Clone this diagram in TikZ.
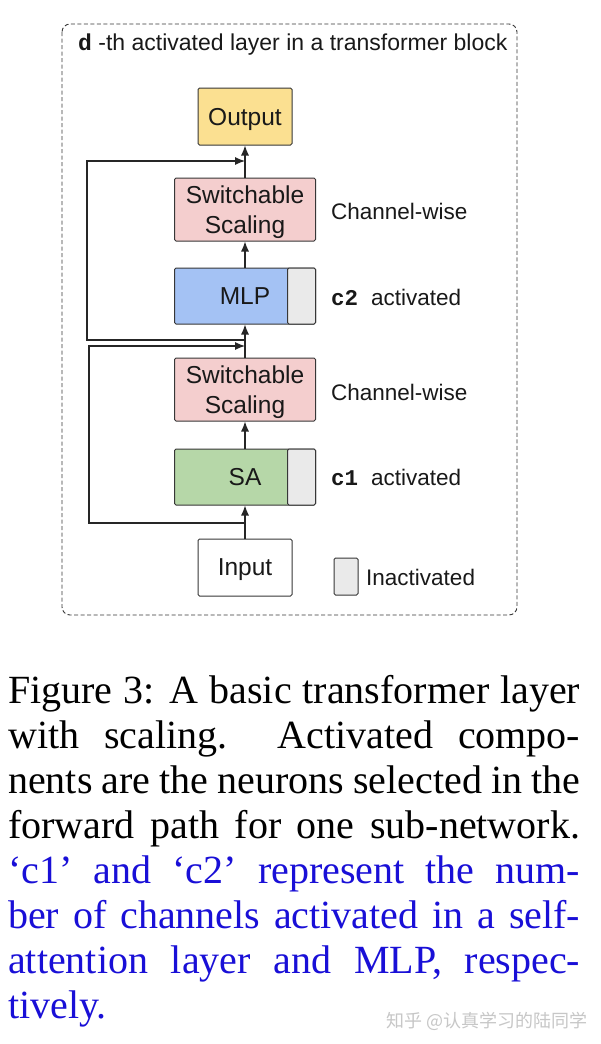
\documentclass[tikz,border=0pt]{standalone}
\usepackage{fontspec}
\setmainfont{Liberation Serif}
\newfontfamily\arialf{Liberation Sans}
\newfontfamily\monof{Liberation Mono}
\newfontfamily\cjkf{Noto Sans CJK SC}
\usetikzlibrary{arrows.meta}
\definecolor{outc}{RGB}{251,224,145}
\definecolor{pinkc}{RGB}{244,206,206}
\definecolor{bluec}{RGB}{164,194,244}
\definecolor{greenc}{RGB}{182,215,168}
\definecolor{grayc}{RGB}{234,234,234}
\definecolor{edgec}{RGB}{55,55,55}
\definecolor{capblue}{RGB}{25,15,215}
\begin{document}
\begin{tikzpicture}[x=1pt,y=-1pt,
  box/.style={draw=edgec, line width=1pt, rounded corners=1.5pt, inner sep=0pt, align=center,
    text depth=0pt, font=\arialf\fontsize{24.5}{30}\selectfont, text=black!90},
  lbl/.style={anchor=west, inner sep=0pt, font=\arialf\fontsize{22.5}{26}\selectfont, text=black!90},
  conn/.style={draw=black!85, line width=1.1pt},
  arr/.style={conn, -{Latex[length=10pt,width=8pt]}},
  capline/.style={anchor=base west, inner sep=0pt, font=\fontsize{40}{45}\selectfont}
]
\useasboundingbox (0,0) rectangle (600,1044);
\fill[white] (0,0) rectangle (600,1044);
% frame
\draw[edgec, line width=0.9pt, rounded corners=8pt, dash pattern=on 4pt off 2.5pt] (62,24) rectangle (517,615);
\node[lbl, anchor=base west, font=\arialf\fontsize{23}{26}\selectfont] (title) at (78,50) {{\monof\bfseries d} -th activated layer in a transformer block};
% boxes
\node[box, fill=outc, minimum width=94pt, minimum height=57pt] (out) at (245,116.5) {Output};
\node[box, fill=pinkc, minimum width=141pt, minimum height=63pt] (sc2) at (245,209.5) {Switchable\\Scaling};
\node[box, fill=bluec, minimum width=141pt, minimum height=56pt] (mlp) at (245,296) {MLP};
\node[box, fill=grayc, minimum width=28pt, minimum height=56pt, anchor=east] (mlpoff) at (mlp.east) {};
\node[box, fill=pinkc, minimum width=141pt, minimum height=63pt] (sc1) at (245,389.5) {Switchable\\Scaling};
\node[box, fill=greenc, minimum width=141pt, minimum height=56pt] (sa) at (245,477) {SA};
\node[box, fill=grayc, minimum width=28pt, minimum height=56pt, anchor=east] (saoff) at (sa.east) {};
\node[box, fill=white, minimum width=94pt, minimum height=57pt] (in) at (245,567.5) {Input};
\node[box, fill=grayc, minimum width=24pt, minimum height=37pt] (leg) at (346,576.5) {};
% labels
\node[lbl] (legt) at (366,577) {Inactivated};
\node[lbl] (l2) at (331,211) {Channel-wise};
\node[lbl] (l2b) at (331,297) {{\monof\bfseries c2}\hspace{13pt}activated};
\node[lbl] (l1) at (331,392) {Channel-wise};
\node[lbl] (l1b) at (331,477) {{\monof\bfseries c1}\hspace{13pt}activated};
% connectors
\draw[arr] (in) -- (sa);
\draw[arr] (sa) -- (sc1);
\draw[arr] (sc1) -- (mlp);
\draw[arr] (mlp) -- (sc2);
\draw[arr] (sc2) -- (out);
\coordinate (b1) at (245,523);
\coordinate (k1) at (89,346);
\coordinate (j1) at (245,346);
\draw[arr] (b1) -| (k1) -- (j1);
\coordinate (b2) at (245,340);
\coordinate (k2) at (87,161);
\coordinate (j2) at (245,161);
\draw[arr] (b2) -| (k2) -- (j2);
% caption
\node[capline] (cap1) at (8,703) {\makebox[572pt][s]{Figure 3: A basic transformer layer}};
\node[capline] (cap2) at (8,748) {\makebox[572pt][s]{with scaling.\ \ Activated compo-}};
\node[capline] (cap3) at (8,793) {\makebox[572pt][s]{nents are the neurons selected in the}};
\node[capline] (cap4) at (8,838) {\makebox[572pt][s]{forward path for one sub-network.}};
\node[capline, text=capblue] (cap5) at (8,883) {\makebox[572pt][s]{‘c1’ and ‘c2’ represent the num-}};
\node[capline, text=capblue] (cap6) at (8,928) {\makebox[572pt][s]{ber of channels activated in a self-}};
\node[capline, text=capblue] (cap7) at (8,973) {\makebox[572pt][s]{attention layer and MLP, respec-}};
\node[capline, text=capblue] (cap8) at (8,1018) {tively.};
% watermark
\node[inner sep=0pt, text=black!22, font=\cjkf\fontsize{18}{22}\selectfont] (wm) at (487,1021) {知乎 @认真学习的陆同学};
\end{tikzpicture}
\end{document}
